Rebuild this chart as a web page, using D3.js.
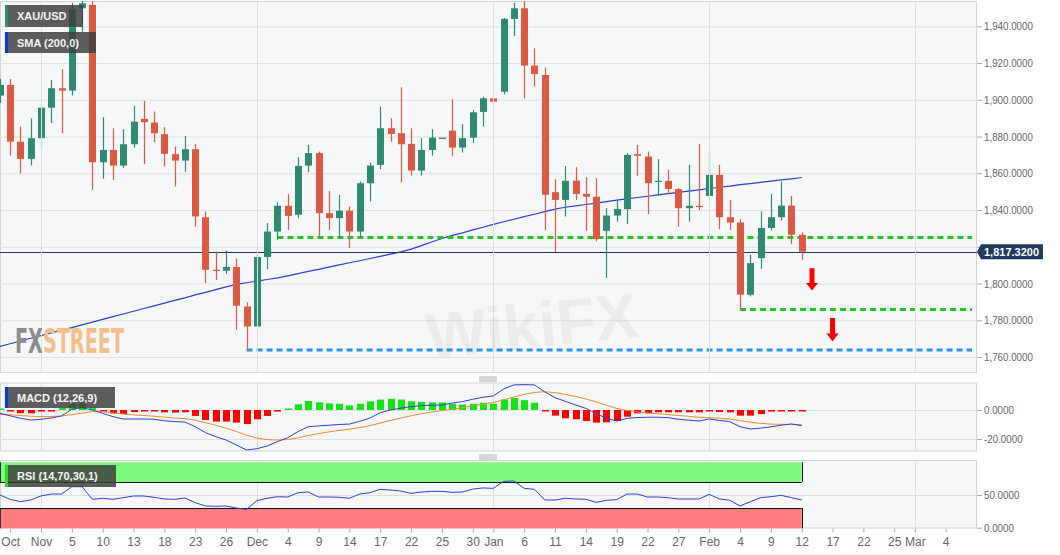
<!DOCTYPE html>
<html><head><meta charset="utf-8">
<script src="https://cdn.jsdelivr.net/npm/d3@7"></script>
<style>
html,body{margin:0;padding:0;background:#fff;}
svg{display:block;font-family:"Liberation Sans",Arial,sans-serif;}
</style></head><body>
<svg id="c" width="1060" height="555"></svg>
<script>
// ---------------- DATA ----------------
const dates = ["2020-10-27","2020-10-28","2020-10-29","2020-10-30",
"2020-11-02","2020-11-03","2020-11-04","2020-11-05","2020-11-06","2020-11-09","2020-11-10","2020-11-11","2020-11-12","2020-11-13",
"2020-11-16","2020-11-17","2020-11-18","2020-11-19","2020-11-20","2020-11-23","2020-11-24","2020-11-25","2020-11-26","2020-11-27","2020-11-30",
"2020-12-01","2020-12-02","2020-12-03","2020-12-04","2020-12-07","2020-12-08","2020-12-09","2020-12-10","2020-12-11",
"2020-12-14","2020-12-15","2020-12-16","2020-12-17","2020-12-18","2020-12-21","2020-12-22","2020-12-23","2020-12-24","2020-12-25",
"2020-12-28","2020-12-29","2020-12-30","2020-12-31",
"2021-01-01","2021-01-04","2021-01-05","2021-01-06","2021-01-07","2021-01-08","2021-01-11","2021-01-12","2021-01-13","2021-01-14","2021-01-15",
"2021-01-18","2021-01-19","2021-01-20","2021-01-21","2021-01-22","2021-01-25","2021-01-26","2021-01-27","2021-01-28","2021-01-29",
"2021-02-01","2021-02-02","2021-02-03","2021-02-04","2021-02-05","2021-02-08","2021-02-09","2021-02-10","2021-02-11","2021-02-12"];

const open = [1902.3,1908.1,1877.2,1867.8,
1879.1,1895.7,1906.3,1905.0,1949.8,1951.6,1866.0,1872.7,1864.2,1875.8,1889.6,1887.6,1881.3,1870.4,1866.9,1873.1,1836.1,1807.5,1806.9,1809.0,1787.5,
1776.6,1814.4,1828.3,1842.3,1837.4,1864.2,1871.0,1838.3,1835.6,1839.6,1828.3,1854.6,1864.6,1884.5,1881.8,1876.0,1861.5,1872.7,1879.4,1883.2,1874.0,1879.4,1893.4,
1900.8,1904.4,1944.0,1949.8,1918.6,1913.5,1849.7,1845.5,1856.0,1848.8,1847.3,1828.7,1837.0,1840.5,1870.4,1869.1,1855.3,1855.9,1851.4,1841.0,1842.3,
1847.7,1859.1,1836.1,1833.2,1793.9,1813.8,1830.2,1836.1,1842.4,1826.5];

const high = [1911.3,1911.3,1885.4,1890.0,
1897.5,1910.8,1916.6,1952.8,1965.0,1965.6,1890.5,1884.5,1884.0,1896.8,1899.4,1893.6,1885.1,1874.5,1880.3,1876.0,1839.2,1817.4,1818.0,1813.5,1789.7,
1818.0,1832.9,1844.3,1848.6,1868.8,1875.5,1871.8,1850.4,1848.3,1841.9,1855.5,1865.8,1896.3,1890.0,1906.8,1884.5,1879.1,1884.0,1879.4,1900.3,1886.7,1894.5,1901.7,
1900.8,1944.5,1952.8,1959.5,1928.0,1917.5,1856.8,1864.0,1863.3,1857.9,1857.3,1841.0,1845.5,1871.0,1875.5,1871.8,1867.7,1861.9,1851.9,1864.6,1876.0,
1871.8,1864.6,1845.5,1835.0,1815.6,1839.2,1848.8,1855.5,1847.7,1827.8];

const low = [1898.3,1869.6,1860.0,1864.2,
1874.0,1887.3,1881.8,1902.3,1936.2,1851.0,1857.0,1856.4,1862.8,1874.0,1865.0,1876.9,1863.7,1852.8,1860.9,1831.0,1800.2,1802.0,1805.1,1774.8,1763.6,
1775.5,1807.8,1823.8,1829.2,1835.5,1860.6,1825.3,1829.0,1825.3,1819.3,1825.3,1844.6,1862.2,1877.2,1855.0,1858.8,1858.8,1869.6,1879.4,1869.5,1871.3,1876.4,1885.4,
1897.6,1903.0,1934.7,1900.8,1907.2,1829.0,1817.2,1836.5,1845.5,1828.7,1823.0,1803.0,1833.7,1832.3,1858.6,1837.8,1847.7,1848.8,1831.0,1833.7,1840.0,
1846.5,1829.6,1829.2,1785.7,1793.0,1808.0,1828.8,1834.3,1821.6,1812.9];

const close = [1908.1,1877.2,1867.8,1879.1,
1895.7,1906.3,1905.0,1949.4,1952.5,1866.0,1872.7,1864.2,1875.8,1888.1,1887.8,1881.8,1870.6,1866.9,1873.1,1836.5,1807.5,1806.9,1809.0,1787.9,1776.6,
1814.4,1828.3,1842.3,1836.8,1864.0,1871.0,1838.3,1835.6,1839.6,1828.3,1854.6,1864.2,1884.5,1881.4,1875.8,1861.5,1872.7,1879.4,1879.4,1874.0,1879.1,1893.2,1900.8,
1899.0,1944.0,1949.8,1918.6,1914.0,1848.3,1845.5,1855.9,1848.8,1847.3,1824.2,1837.0,1840.5,1870.0,1869.5,1854.6,1855.9,1851.5,1841.0,1842.3,1841.6,
1859.1,1836.1,1833.2,1793.9,1811.1,1830.2,1836.1,1842.4,1826.5,1817.3];

const sma200 = [1765.8,1767.2,1768.7,1770.2,
1771.6,1773.1,1774.6,1776.0,1777.5,1779.0,1780.5,1782.0,1783.4,1784.9,1786.4,1787.8,1789.3,1790.8,1792.2,1793.8,1795.2,1796.7,1798.2,1799.5,1800.4,
1801.3,1802.2,1803.1,1804.2,1805.4,1806.6,1807.7,1808.9,1810.1,1811.3,1812.4,1813.6,1814.8,1816.0,1817.2,1818.7,1820.6,1822.6,1824.5,1826.2,1827.6,1829.2,1830.6,
1832.2,1833.6,1835.0,1836.4,1837.7,1839.1,1840.5,1841.5,1842.3,1843.0,1843.8,1844.6,1845.4,1846.1,1846.8,1847.5,1848.2,1848.9,1849.6,1850.3,1851.0,
1851.7,1852.4,1853.0,1853.8,1854.4,1855.1,1855.7,1856.4,1857.0,1857.7];

const macdLine = [-2.3,-4.0,-5.7,-6.9,
-6.4,-5.5,-4.1,0.5,1.6,0.0,-2.3,-4.6,-6.2,-6.2,-6.2,-6.4,-7.4,-8.0,-8.3,-11.5,-15.6,-18.4,-20.7,-24.1,-27.6,
-26.7,-24.8,-21.8,-19.1,-14.9,-11.5,-11.0,-10.5,-10.0,-9.7,-7.8,-5.6,-1.8,0.0,1.3,2.3,3.0,3.3,3.4,4.8,5.8,7.4,8.8,
9.7,14.5,17.3,17.5,17.3,12.5,8.5,6.0,3.5,1.1,-2.5,-5.7,-7.6,-5.8,-5.2,-5.0,-5.0,-5.3,-6.4,-7.0,-7.6,
-6.2,-7.2,-8.0,-11.5,-13.1,-12.5,-11.6,-10.5,-9.6,-10.8];

const signalLine = [-3.0,-3.3,-3.8,-4.3,
-4.6,-4.5,-4.1,-3.2,-2.2,-1.1,-1.3,-2.0,-2.8,-3.4,-3.8,-4.3,-4.9,-5.5,-6.0,-7.0,-8.8,-10.5,-12.5,-14.8,-17.4,
-19.3,-20.4,-20.7,-20.4,-19.2,-17.6,-16.3,-15.1,-14.1,-13.2,-12.1,-10.8,-9.0,-7.2,-5.5,-4.0,-2.6,-1.4,-0.4,0.6,1.6,2.8,4.0,
5.2,7.0,9.0,10.8,12.1,12.6,12.0,10.8,9.3,7.6,5.6,3.3,1.1,-0.3,-1.3,-2.0,-2.6,-3.2,-3.8,-4.4,-5.0,
-5.3,-5.7,-6.2,-7.3,-8.4,-9.2,-9.7,-9.9,-9.9,-10.1];

const macdHist = [0.5,-0.6,-2.2,-2.3,
-0.6,-0.4,1.5,4.6,5.0,1.6,-0.5,-2.3,-2.8,-1.4,-1.0,-1.0,-1.6,-1.8,-1.6,-4.1,-6.9,-8.0,-8.0,-8.7,-9.7,
-6.4,-4.1,-0.5,0.6,3.9,6.2,5.3,4.6,4.3,3.2,4.3,6.0,7.2,7.7,7.2,6.0,5.6,5.2,5.2,4.3,3.8,4.3,5.0,
4.3,7.2,8.3,6.8,5.0,-0.3,-3.9,-5.7,-6.4,-7.6,-8.7,-8.5,-7.6,-4.6,-2.3,-2.3,-1.6,-1.6,-1.6,-1.6,-1.6,
-0.9,-1.4,-1.6,-3.9,-3.9,-2.8,-1.1,-0.2,-0.1,-0.3];

const rsi = [50.0,43.4,39.8,42.4,
48.5,51.5,51.5,62.7,62.7,43.4,45.0,43.4,45.9,48.5,48.5,46.4,43.9,43.4,45.4,38.3,33.2,32.7,33.2,30.1,28.1,
41.3,45.0,47.4,46.9,53.5,54.6,46.9,46.9,46.6,45.0,51.5,53.5,58.7,57.6,56.0,52.5,54.5,55.6,55.6,54.0,54.6,59.0,60.8,
60.2,71.0,71.5,60.2,58.7,42.4,42.4,45.0,43.9,43.4,38.8,41.8,42.9,51.5,51.5,46.9,46.9,45.9,43.9,43.9,43.9,
51.0,43.9,42.0,33.2,39.8,45.9,47.4,49.5,45.9,42.4];

const priceTicks = [1760,1780,1800,1820,1840,1860,1880,1900,1920,1940];
const macdTicks = [0,-20];
const rsiTicks = [0,50];
const rsiBands = {overbought:70, oversold:30, top:100, bottom:0};
const xTickDates = ["2020-10-28","2020-11-02","2020-11-05","2020-11-10","2020-11-13","2020-11-18","2020-11-23","2020-11-26",
"2020-12-01","2020-12-04","2020-12-09","2020-12-14","2020-12-17","2020-12-22","2020-12-25","2020-12-30",
"2021-01-01","2021-01-06","2021-01-11","2021-01-14","2021-01-19","2021-01-22","2021-01-27",
"2021-02-01","2021-02-04","2021-02-09","2021-02-12","2021-02-17","2021-02-22","2021-02-25","2021-03-01","2021-03-04"];
const xTickLabels = ["Oct","Nov","5","10","13","18","23","26","Dec","4","9","14","17","22","25","30",
"Jan","6","11","14","19","22","27","Feb","4","9","12","17","22","25","Mar","4"];
const monthStarts = ["2020-11-02","2020-12-01","2021-01-01","2021-02-01","2021-03-01"];
const lastPrice = 1817.32;
const levelPrices = [1825.0, 1785.9, 1763.8];
const levelStarts = ["2020-12-03","2021-02-04","2020-11-30"];
const levelKinds = ["green","green","blue"];
const arrowDates = ["2021-02-15","2021-02-17"];
const arrowFrom = [1808.3, 1781.2];
const arrowTo = [1796.2, 1768.5];

// ---------------- LAYOUT ----------------
const svg = d3.select('#c');
const PL = 0, PR = 977;
const mainP = {t:1, b:373}, macP = {t:382.5, b:451.5}, rsiP = {t:460, b:528.5};
const UP = "#2e8b72", DOWN = "#dc5a44";

const base = Date.UTC(2020,10,2);
function widx(s){
  const [y,m,d] = s.split('-').map(Number);
  const days = Math.round((Date.UTC(y,m-1,d)-base)/864e5);
  const w = Math.floor(days/7), r = days - 7*w;
  return w*5 + Math.min(r,5);
}
const xi = d3.scaleLinear().domain([0,85]).range([41, 41+85*10.28]);
const X = s => xi(widx(s));
const yP = d3.scaleLinear().domain([1760,1940]).range([357,26.3]);
const yM = d3.scaleLinear().domain([0,-20]).range([410,439]);
const yR = d3.scaleLinear().domain([0,50]).range([527.7,495]);

const defs = svg.append('defs');
[['cm',mainP],['cmac',macP],['crsi',rsiP]].forEach(([id,p])=>{
  defs.append('clipPath').attr('id',id).append('rect')
    .attr('x',PL).attr('y',p.t).attr('width',PR-PL).attr('height',p.b-p.t);
});
const grad = defs.append('linearGradient').attr('id','fxgrad').attr('x1','0').attr('x2','1').attr('y1','0').attr('y2','0');
grad.append('stop').attr('offset','0.245').attr('stop-color','#8c8c8c');
grad.append('stop').attr('offset','0.245').attr('stop-color','#f2c08a');

// panel backgrounds
[mainP,macP,rsiP].forEach(p=>{
  svg.append('rect').attr('x',PL+0.5).attr('y',p.t+0.5).attr('width',PR-PL-1).attr('height',p.b-p.t-1)
    .attr('fill','#f6f7f9').attr('stroke','#d4d4d4');
});

// gridlines
const gMain = svg.append('g').attr('clip-path','url(#cm)');
gMain.selectAll('line.h').data(priceTicks).join('line')
  .attr('x1',PL).attr('x2',PR).attr('y1',d=>yP(d)+0.5).attr('y2',d=>yP(d)+0.5)
  .attr('stroke','#e2e2e2');
[mainP,macP,rsiP].forEach(p=>{
  svg.append('g').selectAll('line').data(monthStarts).join('line')
    .attr('x1',d=>Math.round(X(d))+0.5).attr('x2',d=>Math.round(X(d))+0.5)
    .attr('y1',p.t+1).attr('y2',p.b-1).attr('stroke','#e0e0e0');
});
svg.append('g').selectAll('line').data(macdTicks).join('line')
  .attr('x1',PL).attr('x2',PR).attr('y1',d=>yM(d)+0.5).attr('y2',d=>yM(d)+0.5).attr('stroke','#e0e0e0');
svg.append('g').selectAll('line').data([50]).join('line')
  .attr('x1',PL).attr('x2',PR).attr('y1',d=>yR(d)+0.5).attr('y2',d=>yR(d)+0.5).attr('stroke','#e0e0e0');

// watermarks
const wm = svg.append('g').attr('clip-path','url(#cm)');
wm.append('text').attr('x',425).attr('y',347).attr('font-size',64).attr('font-weight','bold')
  .attr('fill','#000').attr('opacity',0.04).attr('transform','rotate(-6,540,320)').text('WikiFX');
wm.append('text').attr('x',15).attr('y',353).attr('font-size',33).attr('font-weight','bold')
  .attr('font-family','"DejaVu Sans Condensed","Liberation Sans Narrow",sans-serif')
  .attr('textLength',109).attr('lengthAdjust','spacingAndGlyphs')
  .attr('fill','url(#fxgrad)').text('FXSTREET');

// SMA line
const idx = dates.map(widx);
gMain.append('path').datum(sma200)
  .attr('d', d3.line().x((d,i)=>xi(idx[i])).y(d=>yP(d)))
  .attr('fill','none').attr('stroke','#2a3fd2').attr('stroke-width',1.2);

// dashed levels
levelPrices.forEach((p,i)=>{
  gMain.append('line').attr('x1',X(levelStarts[i])).attr('x2',972)
    .attr('y1',yP(p)).attr('y2',yP(p))
    .attr('stroke', levelKinds[i]==='green' ? '#20c820' : '#2a97e6')
    .attr('stroke-width',3).attr('stroke-dasharray','6,4');
});

// price line
gMain.append('line').attr('x1',PL).attr('x2',PR).attr('y1',Math.round(yP(lastPrice))+0.5).attr('y2',Math.round(yP(lastPrice))+0.5)
  .attr('stroke','#1e3a64').attr('stroke-width',1);

// candles
const cg = gMain.append('g');
dates.forEach((d,i)=>{
  const x = xi(idx[i]);
  const o=open[i], c=close[i];
  const col = o===c ? '#555' : (c>o ? UP : DOWN);
  cg.append('line').attr('x1',Math.round(x)+0.5).attr('x2',Math.round(x)+0.5)
    .attr('y1',yP(high[i])).attr('y2',yP(low[i])).attr('stroke',col).attr('stroke-width',1.2);
  const y1 = yP(Math.max(o,c)), y2 = yP(Math.min(o,c));
  cg.append('rect').attr('x',Math.round(x)-3).attr('width',7)
    .attr('y',y1).attr('height',Math.max(1.2,y2-y1)).attr('fill',col);
});

// arrows
arrowDates.forEach((d,i)=>{
  const x = X(d), y0 = yP(arrowFrom[i]), y1 = yP(arrowTo[i]);
  const hy = y1 - (y1-y0)*0.34;
  gMain.append('path').attr('fill','#ff0000')
    .attr('d',`M${x-2.5},${y0}L${x+2.5},${y0}L${x+2.5},${hy}L${x+6},${hy}L${x},${y1}L${x-6},${hy}L${x-2.5},${hy}Z`);
});

// MACD panel
const gm = svg.append('g').attr('clip-path','url(#cmac)');
gm.selectAll('rect').data(macdHist).join('rect')
  .attr('x',(d,i)=>Math.round(xi(idx[i]))-3).attr('width',7)
  .attr('y',d=> d>=0 ? Math.min(yM(d), yM(0)-1.5) : yM(0))
  .attr('height',d=>Math.max(1.5, Math.abs(yM(d)-yM(0))))
  .attr('fill',d=> d>=0 ? '#12e612' : '#ff0000');
gm.append('path').datum(signalLine)
  .attr('d', d3.line().x((d,i)=>xi(idx[i])).y(d=>yM(d)))
  .attr('fill','none').attr('stroke','#f28a2e').attr('stroke-width',1);
gm.append('path').datum(macdLine)
  .attr('d', d3.line().x((d,i)=>xi(idx[i])).y(d=>yM(d)))
  .attr('fill','none').attr('stroke','#3040d0').attr('stroke-width',1);

// RSI panel
const gr = svg.append('g').attr('clip-path','url(#crsi)');
const xEnd = X(dates[dates.length-1]);
gr.append('rect').attr('x',PL).attr('width',xEnd-PL).attr('y',yR(rsiBands.top)).attr('height',yR(rsiBands.overbought)-yR(rsiBands.top)).attr('fill','#7cf87c');
gr.append('rect').attr('x',PL).attr('width',xEnd-PL).attr('y',yR(rsiBands.oversold)).attr('height',yR(rsiBands.bottom)-yR(rsiBands.oversold)+1).attr('fill','#ff7c7c');
[rsiBands.overbought, rsiBands.oversold].forEach(v=>{
  gr.append('line').attr('x1',PL).attr('x2',xEnd).attr('y1',Math.round(yR(v))+0.5).attr('y2',Math.round(yR(v))+0.5).attr('stroke','#111');
});
gr.append('line').attr('x1',Math.round(xEnd)+0.5).attr('x2',Math.round(xEnd)+0.5).attr('y1',yR(rsiBands.top)).attr('y2',yR(rsiBands.overbought)).attr('stroke','#111');
gr.append('line').attr('x1',Math.round(xEnd)+0.5).attr('x2',Math.round(xEnd)+0.5).attr('y1',yR(rsiBands.oversold)).attr('y2',rsiP.b).attr('stroke','#111');
gr.append('line').attr('x1',0.5).attr('x2',0.5).attr('y1',yR(rsiBands.top)).attr('y2',yR(rsiBands.overbought)).attr('stroke','#333');
gr.append('line').attr('x1',0.5).attr('x2',0.5).attr('y1',yR(rsiBands.oversold)).attr('y2',rsiP.b).attr('stroke','#333');
gr.append('path').datum(rsi)
  .attr('d', d3.line().x((d,i)=>xi(idx[i])).y(d=>yR(d)))
  .attr('fill','none').attr('stroke','#3040d0').attr('stroke-width',1);

// axes
const fmt = d => d3.format(",.4f")(d).replace("\u2212","-");
function styleAxis(g){
  g.select('.domain').remove();
  g.selectAll('.tick line').attr('stroke','#a8a8a8');
  g.selectAll('.tick text').attr('fill','#666').attr('font-size',11.5)
    .attr('font-family','"Liberation Sans",Arial,sans-serif');
}
function narrow(g,ratio){
  g.selectAll('.tick text').each(function(){
    const w = this.getComputedTextLength();
    if (w>0) d3.select(this).attr('textLength', w*ratio).attr('lengthAdjust','spacingAndGlyphs');
  });
}
const yl = yP(lastPrice);
// the tick label that sits under the last-price marker is hidden by it
const fmtMain = d => Math.abs(yP(d)-yl) < 12 ? "" : fmt(d);
const ayP = svg.append('g').attr('transform',`translate(${PR},0)`)
  .call(d3.axisRight(yP).tickValues(priceTicks).tickFormat(fmtMain).tickSize(5).tickPadding(2));
styleAxis(ayP); narrow(ayP,0.85);
const ayM = svg.append('g').attr('transform',`translate(${PR},0)`)
  .call(d3.axisRight(yM).tickValues(macdTicks).tickFormat(fmt).tickSize(5).tickPadding(2));
styleAxis(ayM); narrow(ayM,0.85);
const ayR = svg.append('g').attr('transform',`translate(${PR},0)`)
  .call(d3.axisRight(yR).tickValues(rsiTicks).tickFormat(fmt).tickSize(5).tickPadding(2));
styleAxis(ayR); narrow(ayR,0.85);

const xTickIdx = xTickDates.map(widx);
const ax = svg.append('g').attr('transform',`translate(0,${rsiP.b})`)
  .call(d3.axisBottom(xi).tickValues(xTickIdx).tickFormat((d,i)=>xTickLabels[i]).tickSize(4).tickPadding(5));
styleAxis(ax);
ax.selectAll('.tick text').attr('font-size',12);

// last price label
svg.append('path').attr('fill','#1f3a5f')
  .attr('d',`M${PR},${yl}L${PR+4},${yl-7.5}L1043,${yl-7.5}L1043,${yl+7.5}L${PR+4},${yl+7.5}Z`);
svg.append('text').attr('x',984).attr('y',yl+4).attr('fill','#fff').attr('font-size',11.5).attr('font-weight','bold')
  .attr('textLength',55).attr('lengthAdjust','spacingAndGlyphs').text(d3.format(",.4f")(lastPrice));

// legend boxes
function legend(x,y,w,h,accent,label){
  svg.append('rect').attr('x',x).attr('y',y).attr('width',w).attr('height',h).attr('fill','rgba(62,62,62,0.84)');
  svg.append('rect').attr('x',x).attr('y',y).attr('width',3).attr('height',h).attr('fill',accent);
  svg.append('text').attr('x',x+12).attr('y',y+h/2+4).attr('fill','#f4f4f4').attr('font-size',11)
    .attr('font-weight','bold').text(label);
}
legend(5,5,78,22,'#2e8b72','XAU/USD');
legend(5,32,91,21,'#1030f0','SMA (200,0)');
legend(5,387,110,21,'#1030f0','MACD (12,26,9)');
legend(5,465,111,22,'#22dd22','RSI (14,70,30,1)');

// drag handles
[376.5, 454.5].forEach(y=>{
  [0,2,4].forEach(o=>{
    svg.append('line').attr('x1',479).attr('x2',497).attr('y1',y+o+0.5).attr('y2',y+o+0.5)
      .attr('stroke','#999').attr('stroke-width',0.8);
  });
});
</script>
</body></html>
